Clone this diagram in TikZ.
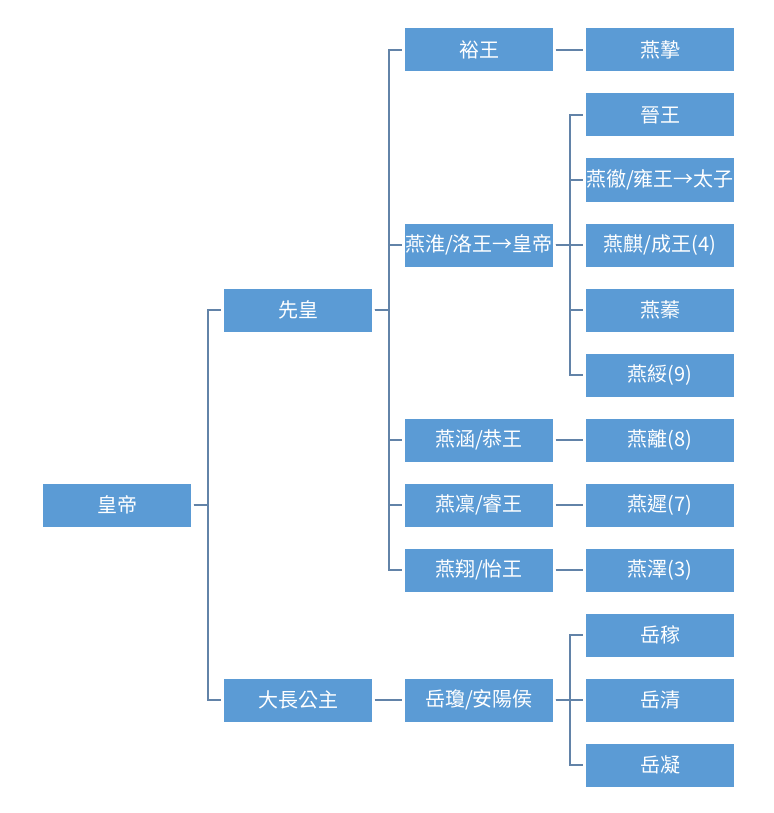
\documentclass[tikz,border=0pt]{standalone}
\usepackage{fontspec}
\setmainfont{Noto Sans CJK TC}
\definecolor{boxblue}{HTML}{5B9BD5}
\definecolor{linecol}{HTML}{6283A8}
\begin{document}
\begin{tikzpicture}[x=1pt,y=-1pt,
  pbox/.style={rectangle,fill=boxblue,text=white,minimum width=148pt,minimum height=43pt,inner sep=0pt,font=\fontsize{20}{21}\selectfont},
  link/.style={draw=linecol,line width=2pt,shorten <=2.5pt,shorten >=2.5pt}]
\useasboundingbox[fill=white] (0,0) rectangle (773,813);
% column 0
\node[pbox] (hd) at (117,505) {皇帝};
% column 1
\node[pbox] (xh) at (298,310) {先皇};
\node[pbox] (dc) at (298,700) {大長公主};
% column 2
\node[pbox] (yw) at (479,50) {裕王};
\node[pbox] (yh) at (479,245) {燕淮/洛王→皇帝};
\node[pbox] (yhan) at (479,440) {燕涵/恭王};
\node[pbox] (yl) at (479,505) {燕凜/睿王};
\node[pbox] (yx) at (479,570) {燕翔/怡王};
\node[pbox] (yq) at (479,700) {岳瓊/安陽侯};
% column 3
\node[pbox] (c0) at (660,50) {燕摯};
\node[pbox] (c1) at (660,115) {晉王};
\node[pbox] (c2) at (660,180) {燕徹/雍王→太子};
\node[pbox] (c3) at (660,245) {燕麒/成王(4)};
\node[pbox] (c4) at (660,310) {燕蓁};
\node[pbox] (c5) at (660,375) {燕綏(9)};
\node[pbox] (c6) at (660,440) {燕離(8)};
\node[pbox] (c7) at (660,505) {燕遲(7)};
\node[pbox] (c8) at (660,570) {燕澤(3)};
\node[pbox] (c9) at (660,635) {岳稼};
\node[pbox] (c10) at (660,700) {岳清};
\node[pbox] (c11) at (660,765) {岳凝};
% connectors
\foreach \t in {xh,dc} \draw[link] (hd.east) -- ++(17,0) |- (\t.west);
\foreach \t in {yw,yh,yhan,yl,yx} \draw[link] (xh.east) -- ++(17,0) |- (\t.west);
\draw[link] (dc) -- (yq);
\draw[link] (yw) -- (c0);
\foreach \t in {c1,c2,c3,c4,c5} \draw[link] (yh.east) -- ++(17,0) |- (\t.west);
\draw[link] (yhan) -- (c6);
\draw[link] (yl) -- (c7);
\draw[link] (yx) -- (c8);
\foreach \t in {c9,c10,c11} \draw[link] (yq.east) -- ++(17,0) |- (\t.west);
\end{tikzpicture}
\end{document}
